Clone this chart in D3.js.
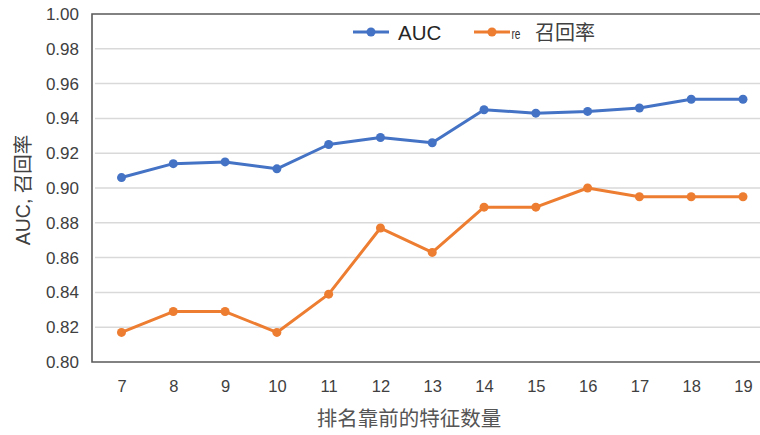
<!DOCTYPE html>
<html>
<head>
<meta charset="utf-8">
<script src="https://cdn.jsdelivr.net/npm/d3@7"></script>
<style>
  html, body { margin: 0; padding: 0; background: #fff; }
  svg { display: block; }
</style>
</head>
<body>
<svg id="chart" width="760" height="435"></svg>
<script>
// Number of top-ranked features used
const featureCounts = [7, 8, 9, 10, 11, 12, 13, 14, 15, 16, 17, 18, 19];
// Model AUC for each feature count
const aucValues = [0.906, 0.914, 0.915, 0.911, 0.925, 0.929, 0.926, 0.945, 0.943, 0.944, 0.946, 0.951, 0.951];
// Recall for each feature count
const recallValues = [0.817, 0.829, 0.829, 0.817, 0.839, 0.877, 0.863, 0.889, 0.889, 0.900, 0.895, 0.895, 0.895];
// Y-axis ticks
const yTicks = [0.80, 0.82, 0.84, 0.86, 0.88, 0.90, 0.92, 0.94, 0.96, 0.98, 1.00];

const series = [
  { name: "AUC", values: aucValues, color: "#4472c4" },
  { name: "召回率", values: recallValues, color: "#ed7d31" }
];

const svg = d3.select("#chart");
const plot = { left: 92, right: 772, top: 14, bottom: 362 };

const x = d3.scalePoint().domain(featureCounts).range([121.5, 743]);
const y = d3.scaleLinear().domain([0.80, 1.00]).range([plot.bottom, plot.top]);

const sans = "Liberation Sans, Arial, Helvetica, sans-serif";
const cjk = "'Noto Sans CJK SC', sans-serif";

// Horizontal gridlines
svg.append("g")
  .selectAll("line")
  .data(yTicks.slice(1, -1))
  .join("line")
  .attr("x1", plot.left + 3).attr("x2", plot.right)
  .attr("y1", d => y(d)).attr("y2", d => y(d))
  .attr("stroke", "#d9d9d9").attr("stroke-width", 1.5);

// Plot frame (left, top, bottom)
svg.append("path")
  .attr("d", `M${plot.right},${plot.top}H${plot.left}V${plot.bottom}H${plot.right}`)
  .attr("fill", "none").attr("stroke", "#595959").attr("stroke-width", 1.6);

// Y axis labels
const yAxis = d3.axisLeft(y).tickValues(yTicks).tickFormat(d3.format(".2f")).tickSize(0).tickPadding(13);
svg.append("g")
  .attr("transform", `translate(${plot.left},0)`)
  .call(yAxis)
  .call(g => g.select(".domain").remove())
  .call(g => g.selectAll("text")
    .attr("font-family", sans).attr("font-size", 17).attr("fill", "#404040"));

// X axis labels
const xAxis = d3.axisBottom(x).tickSize(0).tickPadding(18);
svg.append("g")
  .attr("transform", `translate(0,${plot.bottom})`)
  .call(xAxis)
  .call(g => g.select(".domain").remove())
  .call(g => g.selectAll("text")
    .attr("font-family", sans).attr("font-size", 16.5).attr("fill", "#404040"));

// Axis titles
svg.append("text")
  .attr("x", 409).attr("y", 426)
  .attr("text-anchor", "middle")
  .attr("font-family", cjk).attr("font-size", 20.5).attr("fill", "#555")
  .text("排名靠前的特征数量");

const yTitle = svg.append("text")
  .attr("transform", `translate(30,190) rotate(-90)`)
  .attr("text-anchor", "middle")
  .attr("font-size", 19.5).attr("fill", "#404040");
yTitle.append("tspan").attr("font-family", sans).text("AUC, ");
yTitle.append("tspan").attr("font-family", cjk).text("召回率");

// Lines and markers
const line = d3.line().x((d, i) => x(featureCounts[i])).y(d => y(d));

series.forEach(s => {
  svg.append("path")
    .datum(s.values)
    .attr("d", line)
    .attr("fill", "none")
    .attr("stroke", s.color).attr("stroke-width", 3)
    .attr("stroke-linejoin", "round");
  svg.append("g")
    .selectAll("circle")
    .data(s.values)
    .join("circle")
    .attr("cx", (d, i) => x(featureCounts[i]))
    .attr("cy", d => y(d))
    .attr("r", 4.5)
    .attr("fill", s.color);
});

// Legend
const legend = svg.append("g");
const legendItems = [
  { x: 353, color: series[0].color },
  { x: 474, color: series[1].color }
];
legendItems.forEach(it => {
  legend.append("line")
    .attr("x1", it.x).attr("x2", it.x + 36)
    .attr("y1", 32).attr("y2", 32)
    .attr("stroke", it.color).attr("stroke-width", 3);
  legend.append("circle")
    .attr("cx", it.x + 18).attr("cy", 32).attr("r", 4.5)
    .attr("fill", it.color);
});
legend.append("text")
  .attr("x", 398).attr("y", 39.5)
  .attr("font-family", sans).attr("font-size", 20.5).attr("fill", "#262626")
  .text("AUC");
legend.append("text")
  .attr("x", 511.5).attr("y", 38.5)
  .attr("font-family", sans).attr("font-size", 14).attr("fill", "#333")
  .attr("textLength", 9).attr("lengthAdjust", "spacingAndGlyphs")
  .text("re");
legend.append("text")
  .attr("x", 535).attr("y", 40)
  .attr("font-family", cjk).attr("font-size", 20).attr("fill", "#404040")
  .text("召回率");
</script>
</body>
</html>
